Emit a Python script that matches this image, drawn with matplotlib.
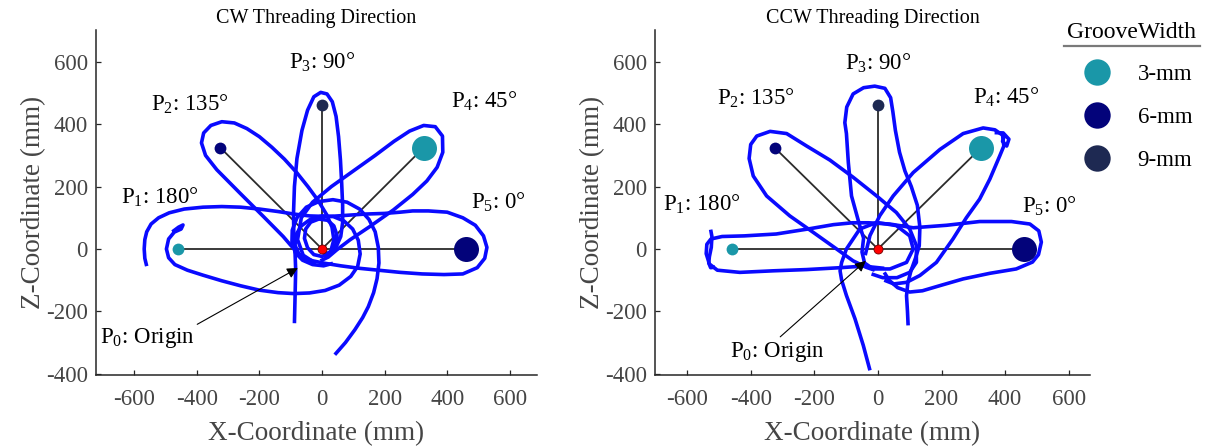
import matplotlib
matplotlib.use("Agg")
import matplotlib.pyplot as plt
from matplotlib.lines import Line2D

plt.rcParams['font.family'] = ['Liberation Serif', 'DejaVu Serif']
plt.rcParams['mathtext.fontset'] = 'custom'
plt.rcParams['mathtext.rm'] = 'Liberation Serif'
plt.rcParams['mathtext.it'] = 'Liberation Serif:italic'
plt.rcParams['axes.unicode_minus'] = False

# ---------------- data ----------------
point_names = ['P$_1$: 180°', 'P$_2$: 135°', 'P$_3$: 90°', 'P$_4$: 45°', 'P$_5$: 0°']
point_x = [-460, -325, 0, 325, 460]
point_y = [0, 325, 460, 325, 0]
point_width = ['3-mm', '6-mm', '9-mm', '3-mm', '6-mm']
point_big = [False, False, False, True, True]

groove_labels = ['3-mm', '6-mm', '9-mm']
groove_colors = ['#1a97a8', '#03037a', '#1e2952']

x_ticks = [-600, -400, -200, 0, 200, 400, 600]
y_ticks = [-400, -200, 0, 200, 400, 600]

# CW trajectory strokes (mm)
cw_a_x = [-88, -86, -84, -86, -90, -91, -88, -80, -64, -46, -26, -4, 16, 33, 45, 53, 59, 63, 66, 66, 60, 46, 24, 0, -26, -46, -56, -52, -36, -10, 18, 38, 48, 44, 28, 6]
cw_a_y = [-238, -153, -67, -14, 50, 114, 200, 290, 380, 445, 488, 502, 497, 472, 425, 360, 285, 210, 140, 85, 40, 8, -14, -24, -18, 4, 34, 64, 86, 96, 92, 74, 44, 14, -8, -20]
cw_b_x = [-560, -566, -568, -566, -560, -546, -522, -488, -440, -380, -320, -260, -200, -140, -90, -40, 20, 80, 140, 200, 250, 290, 340, 400, 450, 490, 516, 527, 520, 496, 450, 390, 320, 250, 180, 120, 60, 10, -30, -60, -80]
cw_b_y = [-55, -30, 0, 30, 55, 80, 100, 116, 128, 134, 136, 134, 128, 120, 112, 106, 104, 108, 112, 114, 118, 122, 122, 118, 100, 76, 42, 5, -30, -60, -80, -82, -80, -75, -68, -62, -54, -46, -38, -28, -12]
cw_c_x = [-478, -458, -444, -450, -472, -490, -497, -490, -470, -430, -380, -320, -260, -200, -140, -90, -40, 10, 55, 92, 114, 122, 116, 98, 70, 36, 0, -36, -66, -84, -86, -74, -50, -20]
cw_c_y = [55, 70, 77, 64, 54, 32, 0, -28, -50, -68, -84, -102, -118, -132, -140, -143, -141, -133, -116, -88, -56, -16, 28, 64, 90, 104, 106, 96, 74, 44, 12, -16, -34, -44]
cw_d_x = [-70, -100, -124, -187, -262, -336, -372, -385, -378, -355, -320, -280, -240, -200, -160, -120, -80, -45, -12, 15, 32, 38, 30]
cw_d_y = [-20, 12, 40, 104, 179, 254, 300, 340, 372, 396, 408, 404, 386, 360, 326, 288, 244, 200, 155, 110, 70, 30, 0]
cw_e_x = [-20, -60, -78, -66, -30, 30, 100, 170, 230, 280, 325, 362, 385, 386, 368, 335, 290, 228, 153, 89, 47, 20, -5]
cw_e_y = [-46, -20, 30, 100, 150, 200, 250, 300, 345, 378, 396, 392, 362, 310, 262, 218, 175, 125, 72, 29, -3, -26, -38]
cw_f_x = [41, 75, 105, 130, 148, 165, 176, 182, 180, 170, 150, 120, 80, 35, -10, -50, -80, -95, -96, -85, -62, -30, 5, 35]
cw_f_y = [-339, -300, -259, -220, -185, -140, -95, -45, 5, 55, 95, 128, 150, 158, 152, 134, 100, 60, 20, -12, -36, -50, -54, -46]

# CCW trajectory strokes (mm)
ccw_a_x = [-25, -46, -72, -99, -114, -119, -114, -99, -57, -4, 58, 100, 111, 90, 38, -15, -42, -50, -45, -57, -83, -93, -99, -104, -98, -78, -45, -10, 22, 40, 47, 55, 68, 85, 105, 124, 132, 130, 118, 104, 94, 90, 93, 95]
ccw_a_y = [-389, -309, -224, -149, -100, -70, -43, 0, 64, 85, 75, 42, 0, -43, -64, -64, -45, -10, 35, 74, 170, 277, 370, 405, 455, 497, 517, 522, 515, 485, 440, 380, 310, 250, 200, 140, 70, 10, -30, -70, -110, -150, -200, -245]
ccw_b_x = [-10, -36, -78, -130, -203, -277, -350, -392, -405, -400, -381, -339, -287, -224, -151, -78, -4, 58, 100, 121, 121, 100, 60, 15, -20]
ccw_b_y = [-68, -59, -38, 0, 53, 106, 170, 234, 290, 335, 362, 377, 370, 330, 285, 230, 170, 117, 64, 11, -43, -75, -92, -92, -80]
ccw_c_x = [20, -46, -119, -224, -329, -434, -505, -530, -540, -538, -525, -490, -420, -320, -220, -140, -80, -30, 37, 111, 216, 320, 420, 478, 506, 514, 505, 486, 435, 352, 268, 200, 140, 100, 62, 35, 20]
ccw_c_y = [-62, -55, -60, -66, -70, -75, -68, -48, -15, 15, 32, 40, 42, 48, 64, 78, 84, 84, 80, 68, 76, 88, 88, 80, 58, 22, -18, -42, -64, -78, -96, -116, -134, -138, -124, -100, -75]
ccw_d_x = [-526, -522, -524, -530, -532, -526, -512]
ccw_d_y = [62, 40, 5, -25, -45, -60, -58]
ccw_e_x = [-40, -25, 6, 48, 111, 195, 268, 331, 368, 392, 396, 383, 352, 320, 278, 236, 184, 132, 90, 50, 20]
ccw_e_y = [-20, 43, 107, 170, 245, 319, 370, 388, 382, 365, 330, 298, 224, 160, 100, 32, -43, -85, -107, -112, -100]
ccw_f_x = [367, 394, 412, 405, 392, 398]
ccw_f_y = [373, 372, 352, 330, 345, 365]

cw_strokes = [(cw_a_x, cw_a_y), (cw_b_x, cw_b_y), (cw_c_x, cw_c_y),
              (cw_d_x, cw_d_y), (cw_e_x, cw_e_y), (cw_f_x, cw_f_y)]
ccw_strokes = [(ccw_a_x, ccw_a_y), (ccw_b_x, ccw_b_y), (ccw_c_x, ccw_c_y),
               (ccw_d_x, ccw_d_y), (ccw_e_x, ccw_e_y), (ccw_f_x, ccw_f_y)]

# label positions (mm) per panel
cw_label_x = [-517, -421, 0, 517, 565]
cw_label_y = [167, 465, 599, 474, 151]
ccw_label_x = [-553, -383, 0, 402, 540]
ccw_label_y = [144, 482, 594, 486, 137]
cw_origin_text = (-559, -285)
cw_origin_tail = (-367, -215)
cw_origin_head = (-77, -61)
ccw_origin_text = (-317, -329)
ccw_origin_tail = (-254, -249)
ccw_origin_head = (-38, -38)

# ---------------- figure ----------------
W, H = 1209, 448
fig = plt.figure(figsize=(W / 100, H / 100), dpi=100)
ax1 = fig.add_axes([96 / W, 73 / H, 441 / W, 345 / H])
ax2 = fig.add_axes([655 / W, 73 / H, 435 / W, 345 / H])

color_of = dict(zip(groove_labels, groove_colors))
label_color = '#454545'


def draw(ax, strokes, title, xlim, lab_x, lab_y, otext, otail, ohead):
    for px, py in zip(point_x, point_y):
        ax.plot([0, px], [0, py], color='#2b2b2b', lw=1.3, zorder=2)
    for sx, sy in strokes:
        ax.plot(sx, sy, color='#0a0aff', lw=2.6, solid_capstyle='butt',
                solid_joinstyle='round', zorder=3)
    for px, py, w, big in zip(point_x, point_y, point_width, point_big):
        ax.plot(px, py, 'o', color=color_of[w], ms=18 if big else 8.5,
                mec='none', zorder=4)
    ax.plot(0, 0, 'o', color='#ff0000', ms=6.5, mec='#700000', mew=0.6, zorder=5)
    for name, tx, ty in zip(point_names, lab_x, lab_y):
        ax.text(tx, ty, name, ha='center', va='center', fontsize=16.5, color='black')
    ax.annotate('P$_0$: Origin', xy=ohead, xytext=otext, ha='center', va='center',
                fontsize=16.5, color='black',
                arrowprops=dict(arrowstyle='-|>', color='black', lw=0.8,
                                mutation_scale=16, shrinkA=0, shrinkB=0,
                                relpos=(1.0, 1.0) if otail[0] > otext[0] + 100 else (0.5, 1.0)),
                zorder=6)
    ax.set_xlim(*xlim)
    ax.set_ylim(-404, 702)
    ax.set_xticks(x_ticks)
    ax.set_yticks(y_ticks)
    ax.tick_params(direction='in', length=3.5, width=0.9, colors='#262626',
                   labelsize=16.5, labelcolor=label_color, pad=6)
    ax.tick_params(axis='x', pad=10)
    for s in ['top', 'right']:
        ax.spines[s].set_visible(False)
    for s in ['left', 'bottom']:
        ax.spines[s].set_color('#262626')
        ax.spines[s].set_linewidth(1.1)
    ax.set_xlabel('X-Coordinate (mm)', fontsize=19.5, color=label_color, labelpad=8)
    ax.set_ylabel('Z-Coordinate (mm)', fontsize=19.5, color=label_color, labelpad=0)
    ax.set_title(title, fontsize=14.5, color='black', pad=5)


draw(ax1, cw_strokes, 'CW Threading Direction', (-722, 687),
     cw_label_x, cw_label_y, cw_origin_text, cw_origin_tail, cw_origin_head)
draw(ax2, ccw_strokes, 'CCW Threading Direction', (-701, 667),
     ccw_label_x, ccw_label_y, ccw_origin_text, ccw_origin_tail, ccw_origin_head)

handles = [Line2D([], [], ls='', marker='o', ms=19, color=c, mec='none')
           for c in groove_colors]
leg = fig.legend(handles, groove_labels, loc='upper left',
                 bbox_to_anchor=(1070 / W, 1 - 48 / H), frameon=False,
                 fontsize=16.5, handlelength=1.0, handletextpad=1.25,
                 labelspacing=0.95, borderpad=0.2)
fig.text(1131 / W, 1 - 33 / H, 'GrooveWidth', ha='center', va='center',
         fontsize=17, color='black')
fig.add_artist(Line2D([1064 / W, 1200 / W], [1 - 46 / H, 1 - 46 / H],
                      transform=fig.transFigure, color='#7a7a7a', lw=1.6))

fig.savefig('out.png', dpi=100)
